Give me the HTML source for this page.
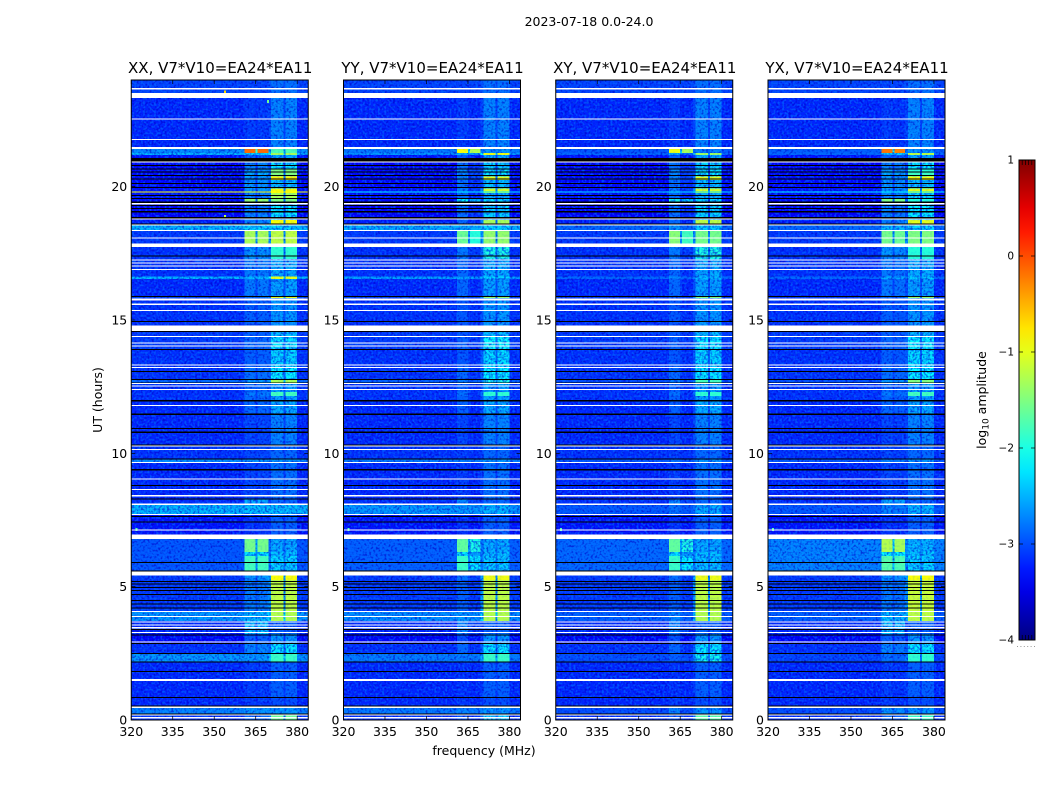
<!DOCTYPE html>
<html lang="en">
<head>
<meta charset="utf-8">
<title>Dynamic spectrum 2023-07-18</title>
<style>
html,body{margin:0;padding:0;background:#fff;width:1050px;height:800px;overflow:hidden}
svg{display:block}
text{font-family:"DejaVu Sans","Liberation Sans",sans-serif;fill:#000}
</style>
</head>
<body>
<svg id="chart" width="1050" height="800" viewBox="0 0 1050 800" xmlns="http://www.w3.org/2000/svg">
  <defs>
    <filter id="speckleDark" x="0" y="0" width="100%" height="100%" color-interpolation-filters="sRGB">
      <feTurbulence type="fractalNoise" baseFrequency="0.46" numOctaves="1" seed="7"/>
      <feColorMatrix type="matrix" values="0 0 0 0 0  0 0 0 0 0  0 0 0 0 0.78  4.5 0 0 0 -2.15"/>
    </filter>
    <filter id="speckleLight" x="0" y="0" width="100%" height="100%" color-interpolation-filters="sRGB">
      <feTurbulence type="fractalNoise" baseFrequency="0.46" numOctaves="1" seed="23"/>
      <feColorMatrix type="matrix" values="0 0 0 0 0  0 0 0 0 0.42  0 0 0 0 1  4.5 0 0 0 -2.15"/>
    </filter>
    <linearGradient id="jetGradient" x1="0" y1="1" x2="0" y2="0"></linearGradient>
  </defs>
  <text x="589" y="26" font-size="12.5" text-anchor="middle">2023-07-18 0.0-24.0</text>
  <text x="484" y="755" font-size="12.5" text-anchor="middle">frequency (MHz)</text>
  <text x="102" y="400" font-size="12.5" text-anchor="middle" transform="rotate(-90 102 400)">UT (hours)</text>
  <text x="986" y="400" font-size="12.5" text-anchor="middle" transform="rotate(-90 986 400)">log<tspan font-size="9" dy="2.5">10</tspan><tspan dy="-2.5"> amplitude</tspan></text>
  <g id="panels"></g>
  <g id="colorbar"></g>
</svg>
<script>
// ---------- data (hours, MHz, log10 amplitude) ----------
const panelNames = ['XX', 'YY', 'XY', 'YX'];
const panelTitles = ['XX, V7*V10=EA24*EA11', 'YY, V7*V10=EA24*EA11', 'XY, V7*V10=EA24*EA11', 'YX, V7*V10=EA24*EA11'];
const hourTicks = [0, 5, 10, 15, 20];
const freqTicks = [320, 335, 350, 365, 380];
const colorbarTicks = [1, 0, -1, -2, -3, -4];
const freqEdges = [320, 361, 365, 365.7, 369.6, 370.6, 375, 375.7, 380, 384];
const colKinds = ['bg', 'a1', 'gapA', 'a2', 'gapB', 'b', 'gapB', 'b', 'bg'];
const a2Offset = [0, -0.35, -0.35, -0.05];

const rowEdges = [0,.22,.45,.86,2.18,2.51,2.88,3.22,3.71,4.05,
  5.25,5.41,6.15,6.3,6.79,7.69,8.06,8.29,9.64,9.79,
  10.28,11.44,12,12.15,12.3,12.6,12.75,13.2,13.88,14.4,
  14.8,15.83,15.9,16.54,16.63,17.29,17.81,18.34,18.56,18.75,
  19.39,19.58,19.76,19.93,20.25,20.38,20.55,20.64,20.93,21.19,
  21.26,21.41,23.33,24];

const bgXX = [-3.15,-2.7,-3.2,-3.2,-2.6,-3.15,-3.4,-3.2,-2.6,-3.1,
  -3.1,-2.95,-2.95,-2.95,-3.3,-2.45,-3.15,-3.2,-2.65,-3.15,
  -3.2,-3.2,-3.15,-3.15,-3.15,-2.85,-3.15,-3.15,-3.1,-3.1,
  -3.15,-3,-3.2,-2.45,-3.15,-3.15,-3.1,-2.45,-3.25,-3.4,
  -3.35,-3.3,-3.3,-3.35,-3.35,-3.35,-3.35,-3.4,-3.3,-2.45,
  -2.65,-3.2,-3.05];
const bgYY = [-3.15,-2.75,-3.2,-3.2,-2.75,-3.15,-3.4,-3.2,-2.65,-3.1,
  -3.1,-2.9,-2.9,-2.9,-3.3,-2.6,-3.15,-3.2,-2.75,-3.15,
  -3.2,-3.2,-3.15,-3.15,-3.15,-2.9,-3.15,-3.15,-3.1,-3.1,
  -3.15,-3,-3.2,-2.55,-3.15,-3.15,-3.1,-2.5,-3.25,-3.4,
  -3.35,-3.3,-3.3,-3.35,-3.35,-3.35,-3.35,-3.4,-3.3,-2.6,
  -2.75,-3.2,-3.05];
const bgXY = [-3.15,-3,-3.2,-3.2,-3,-3.15,-3.4,-3.2,-2.9,-3.1,
  -3.1,-2.85,-2.85,-2.85,-3.3,-2.95,-3.15,-3.2,-2.95,-3.15,
  -3.2,-3.2,-3.15,-3.15,-3.15,-3,-3.15,-3.15,-3.1,-3.1,
  -3.15,-3.05,-3.2,-2.85,-3.15,-3.15,-3.1,-2.85,-3.25,-3.4,
  -3.35,-3.3,-3.3,-3.35,-3.35,-3.35,-3.35,-3.4,-3.3,-2.85,
  -2.95,-3.2,-3.05];
const bgYX = [-3.15,-3,-3.2,-3.2,-3.05,-3.15,-3.4,-3.2,-2.9,-3.1,
  -3.1,-2.7,-2.7,-2.7,-3.3,-2.95,-3.15,-3.2,-2.95,-3.15,
  -3.2,-3.2,-3.15,-3.15,-3.15,-3,-3.15,-3.15,-3.1,-3.1,
  -3.15,-3.05,-3.2,-2.85,-3.15,-3.15,-3.1,-2.85,-3.25,-3.4,
  -3.35,-3.3,-3.3,-3.35,-3.35,-3.35,-3.35,-3.4,-3.3,-2.85,
  -2.9,-3.2,-3.05];

const rfiAXX = [-2.85,-2.6,-3.1,-3.1,-2.6,-2.7,-2.9,-2.4,-2.4,-2.75,
  -2.6,-1.8,-2.2,-1.55,-3.15,-2.4,-2.5,-3.05,-2.6,-3.05,
  -3.05,-2.85,-2.85,-2.75,-2.85,-2.6,-2.8,-2.9,-2.85,-2.9,
  -2.9,-2.8,-2.75,-2.4,-2.75,-2.6,-1.3,-2.3,-2.7,-2.7,
  -1.4,-2.7,-2.6,-2.6,-2.6,-2.5,-2.6,-2.7,-2.9,-2.3,
  -0.15,-3.1,-3.05];
const rfiAYY = [-2.95,-2.7,-3.1,-3.15,-2.75,-2.85,-3,-2.7,-2.6,-2.9,
  -2.8,-1.85,-2.2,-1.65,-3.15,-2.6,-2.7,-3.1,-2.75,-3.1,
  -3.05,-2.9,-2.9,-2.8,-2.9,-2.75,-2.85,-2.95,-2.9,-2.95,
  -2.95,-2.9,-2.85,-2.55,-2.85,-2.75,-1.6,-2.5,-2.85,-2.8,
  -2.1,-2.85,-2.75,-2.8,-2.7,-2.7,-2.7,-2.8,-2.95,-2.5,
  -0.9,-3.1,-3.05];
const rfiAXY = [-2.95,-2.7,-3.1,-3.15,-2.9,-2.85,-3,-2.7,-2.7,-2.9,
  -2.8,-1.85,-2.25,-1.65,-3.15,-2.8,-2.7,-3.1,-2.8,-3.1,
  -3.05,-2.9,-2.9,-2.8,-2.9,-2.75,-2.85,-2.95,-2.9,-2.95,
  -2.95,-2.9,-2.85,-2.65,-2.85,-2.75,-1.45,-2.6,-2.85,-2.8,
  -2,-2.85,-2.75,-2.8,-2.7,-2.7,-2.7,-2.8,-2.95,-2.5,
  -0.95,-3.1,-3.05];
const rfiAYX = [-2.85,-2.6,-3.1,-3.1,-2.8,-2.7,-2.9,-2.4,-2.4,-2.75,
  -2.6,-1.7,-2.1,-1.25,-3.15,-2.7,-2.5,-3.05,-2.7,-3.05,
  -3.05,-2.85,-2.85,-2.75,-2.85,-2.6,-2.8,-2.9,-2.85,-2.9,
  -2.9,-2.8,-2.75,-2.5,-2.75,-2.6,-1.55,-2.4,-2.7,-2.7,
  -1.5,-2.7,-2.6,-2.6,-2.6,-2.5,-2.6,-2.7,-2.9,-2.3,
  -0.2,-3.1,-3.05];

const rfiBXX = [-1.6,-2.6,-3,-2.9,-1.85,-2.2,-2.6,-2.9,-1.25,-1.2,
  -0.9,-2.3,-2.4,-2.5,-2.9,-2.4,-2.85,-2.8,-2.6,-2.85,
  -2.7,-2.5,-2.55,-1.8,-2.55,-1.3,-2.15,-2.3,-2.2,-2.4,
  -2.6,-1,-2.55,-1,-2.5,-1.9,-1.2,-2.3,-0.9,-2.2,
  -1.5,-1.3,-0.9,-2.4,-0.8,-1.5,-1.5,-2.2,-2.5,-1.3,
  -1.75,-2.7,-2.8];
const rfiBYY = [-2.3,-2.6,-3,-2.9,-1.85,-2.2,-2.6,-2.9,-1.25,-1.2,
  -0.95,-2.35,-2.4,-2.5,-2.9,-2.45,-2.85,-2.8,-2.6,-2.85,
  -2.7,-2.5,-2.55,-1.9,-2.55,-2,-2.15,-2.25,-2.1,-2.4,
  -2.6,-1.4,-2.55,-2.3,-2.5,-2,-1.4,-2.3,-1.3,-2.3,
  -2.25,-2.5,-1.1,-2.4,-1,-2.2,-2.2,-2.3,-2.5,-0.95,
  -2.6,-2.7,-2.8];
const rfiBXY = [-1.7,-2.6,-3,-2.9,-2.05,-2.2,-2.6,-2.9,-1.25,-1.2,
  -0.95,-2.4,-2.4,-2.5,-2.9,-2.5,-2.85,-2.8,-2.6,-2.85,
  -2.7,-2.5,-2.55,-1.9,-2.55,-1.8,-2.2,-2.3,-2.2,-2.4,
  -2.6,-1.5,-2.55,-2.45,-2.5,-2,-1.55,-2.35,-1.2,-2.3,
  -2.25,-2.5,-1.1,-2.4,-1,-2.2,-2.2,-2.3,-2.5,-1.35,
  -2.7,-2.7,-2.8];
const rfiBYX = [-1.85,-2.6,-3,-2.9,-1.9,-2.2,-2.6,-2.9,-1.2,-1.15,
  -0.9,-2.3,-2.35,-2.45,-2.9,-2.45,-2.85,-2.8,-2.6,-2.85,
  -2.7,-2.5,-2.55,-1.8,-2.55,-1.5,-2.15,-2.25,-2.15,-2.4,
  -2.6,-1.4,-2.55,-2.35,-2.5,-1.95,-1.5,-2.3,-1,-2.2,
  -1.95,-2.3,-1,-2.4,-0.9,-1.85,-1.95,-2.2,-2.5,-1.2,
  -2.6,-2.7,-2.8];

// flagged (blank) time ranges, hours [low, high]
const flaggedLow = [.06,.18,.45,1.47,2.9,3.26,3.44,3.55,3.65,3.86,4.06,5.41,6.79,6.93,7.1,7.7,8.06,8.39,8.63,9.03,9.65,10.15,10.25,11.79,12.4,12.51,12.6,13.2,13.3,14.01,14.13,14.36,14.58,15.35,15.57,15.74,16.9,17,17.12,17.23,17.73,18.06,18.34,18.56,18.77,19.34,20.91,21.41,21.75,22.52,23.33,23.65];
const flaggedHigh = [.12,.21,.5,1.53,2.94,3.3,3.49,3.59,3.69,3.9,4.09,5.56,6.91,6.96,7.15,7.73,8.12,8.43,8.66,9.06,9.68,10.17,10.3,11.82,12.42,12.54,12.64,13.23,13.34,14.05,14.16,14.4,14.8,15.38,15.61,15.81,16.92,17.04,17.15,17.27,17.86,18.09,18.38,18.59,18.81,19.38,20.94,21.49,21.79,22.56,23.52,23.7];
// zero-amplitude (black) time ranges, hours [low, high]
const zeroLow = [.22,.51,.84,1.81,2.18,2.49,2.86,3.19,3.38,4.19,4.35,4.47,4.7,4.85,4.95,5.1,5.19,5.59,5.9,7.41,7.61,8.28,8.78,9.35,9.78,10.3,10.76,10.91,11.44,11.94,12.64,12.75,13.06,13.89,14.55,14.94,15.87,17.4,18.58,18.81,19.03,19.16,19.28,19.38,19.55,19.66,19.96,20.1,20.29,20.41,20.54,20.65,20.79,20.94];
const zeroHigh = [.25,.54,.86,1.84,2.2,2.51,2.88,3.21,3.42,4.21,4.37,4.5,4.73,4.88,4.98,5.12,5.21,5.61,5.92,7.44,7.65,8.31,8.81,9.41,9.81,10.33,10.81,10.95,11.5,12,12.66,12.79,13.09,13.91,14.58,14.97,15.9,17.42,18.62,18.87,19.09,19.2,19.31,19.44,19.58,19.69,19.99,20.14,20.31,20.44,20.56,20.68,20.81,21.08];
// full-width bright lines: hour and level in each panel
const brightLineHour = [19.82];
const brightLineLevelXX = [-0.9];
const brightLineLevelYY = [-2.2];
const brightLineLevelXY = [-2.3];
const brightLineLevelYX = [-2.2];
// isolated bright samples
const spikeFreq = [321.5, 353.5, 353.5, 369];
const spikeHour = [7.2, 23.6, 18.94, 23.25];
const spikeLevel = [-1.7, -0.7, -1.2, -1.6];
const spikePanel = ['all', 'XX', 'XX', 'XX'];

// ---------- scales ----------
const panelLeft = [131.25, 343.5, 555.75, 768];
const panelWidth = 177, axTop = 80, axBottom = 720;
const freqMin = 320, freqMax = 384, hourMin = 0, hourMax = 24, cbMin = -4, cbMax = 1;
const cbX = 1019, cbW = 16, cbTop = 160, cbBottom = 640;
const brightCutoff = -2.0;
const bgByPanel = [bgXX, bgYY, bgXY, bgYX];
const aByPanel = [rfiAXX, rfiAYY, rfiAXY, rfiAYX];
const bByPanel = [rfiBXX, rfiBYY, rfiBXY, rfiBYX];
const lineByPanel = [brightLineLevelXX, brightLineLevelYY, brightLineLevelXY, brightLineLevelYX];

function xScale(p, f) { return panelLeft[p] + (f - freqMin) / (freqMax - freqMin) * panelWidth; }
function yScale(h) { return axBottom - (h - hourMin) / (hourMax - hourMin) * (axBottom - axTop); }
function cbScale(v) { return cbBottom - (v - cbMin) / (cbMax - cbMin) * (cbBottom - cbTop); }
function clip01(v) { return Math.max(0, Math.min(1, v)); }
function jet(level) {
  const t = clip01((level - cbMin) / (cbMax - cbMin));
  const r = clip01(1.5 - Math.abs(4 * t - 3));
  const g = clip01(1.5 - Math.abs(4 * t - 2));
  const b = clip01(1.5 - Math.abs(4 * t - 1));
  return 'rgb(' + Math.round(r * 255) + ',' + Math.round(g * 255) + ',' + Math.round(b * 255) + ')';
}
const NS = 'http://www.w3.org/2000/svg';
function mk(parent, tag, attrs) {
  const el = document.createElementNS(NS, tag);
  for (const k in attrs) el.setAttribute(k, attrs[k]);
  parent.appendChild(el);
  return el;
}
function cellLevel(kind, bg, a, b, off) {
  if (kind === 'bg') return bg;
  if (kind === 'a1') return a;
  if (kind === 'a2') return Math.max(bg, a + off);
  if (kind === 'b') return b;
  if (kind === 'gapA') return bg + 0.3 * (a - bg);
  return bg + 0.28 * (b - bg);
}

// ---------- panels ----------
const panelsRoot = document.getElementById('panels');
panelNames.forEach(function (name, p) {
  const g = mk(panelsRoot, 'g', {});
  
  
  const L = xScale(p, freqMin), R = xScale(p, freqMax);

  const cells = mk(g, 'g', { 'shape-rendering': 'crispEdges' });
  
  
  const dark = mk(g, 'rect', { x: L, y: axTop, width: panelWidth, height: axBottom - axTop, filter: 'url(#speckleDark)', opacity: 0.6 });
  
  
  const light = mk(g, 'rect', { x: L, y: axTop, width: panelWidth, height: axBottom - axTop, filter: 'url(#speckleLight)', opacity: 0.6 });
  
  
  const brightCells = mk(g, 'g', { 'shape-rendering': 'crispEdges' });
  
  
  const weak = mk(g, 'rect', { x: L, y: axTop, width: panelWidth, height: axBottom - axTop, filter: 'url(#speckleLight)', opacity: 0.12 });
  
  

  for (let r = 0; r < rowEdges.length - 1; r++) {
    const yT = yScale(rowEdges[r + 1]), yB = yScale(rowEdges[r]);
    for (let c = 0; c < colKinds.length; c++) {
      const x0 = xScale(p, freqEdges[c]), x1 = xScale(p, freqEdges[c + 1]);
      const lvl = cellLevel(colKinds[c], bgByPanel[p][r], aByPanel[p][r], bByPanel[p][r], a2Offset[p]);
      const holder = lvl > brightCutoff ? brightCells : cells;
      const cell = mk(holder, 'rect', { x: x0, y: yT, width: x1 - x0, height: yB - yT, fill: jet(lvl) });
      
      
    }
  }

  spikeFreq.forEach(function (f, i) {
    if (spikePanel[i] !== 'all' && spikePanel[i] !== name) return;
    const s = mk(g, 'rect', { x: xScale(p, f), y: yScale(spikeHour[i]), width: 2, height: 3, fill: jet(spikeLevel[i]), 'shape-rendering': 'crispEdges' });
    
    
  });
  zeroLow.forEach(function (lo, i) {
    const yT = yScale(zeroHigh[i]);
    const z = mk(g, 'rect', { x: L, y: yT, width: panelWidth, height: Math.max(1, yScale(lo) - yT), fill: '#000', 'shape-rendering': 'crispEdges' });
    
    
  });
  brightLineHour.forEach(function (h, i) {
    const bl = mk(g, 'rect', { x: L, y: yScale(h), width: panelWidth, height: 1, fill: jet(lineByPanel[p][i]), 'shape-rendering': 'crispEdges' });
    
    
  });
  flaggedLow.forEach(function (lo, i) {
    const yT = yScale(flaggedHigh[i]);
    const w = mk(g, 'rect', { x: L, y: yT, width: panelWidth, height: Math.max(1, yScale(lo) - yT), fill: '#fff', 'shape-rendering': 'crispEdges' });
    
    
  });

  const frame = mk(g, 'rect', { x: L, y: axTop, width: panelWidth, height: axBottom - axTop, fill: 'none', stroke: '#000', 'stroke-width': 1 });
  
  

  hourTicks.forEach(function (h) {
    const y = yScale(h);
    const t1 = mk(g, 'line', { x1: L, x2: L + 4, y1: y, y2: y, stroke: '#000', 'stroke-width': 0.7 });
    
    
    const t2 = mk(g, 'line', { x1: R, x2: R - 4, y1: y, y2: y, stroke: '#000', 'stroke-width': 0.7 });
    
    
    const lab = mk(g, 'text', { x: L - 4, y: y + 4.5, 'font-size': 12.5, 'text-anchor': 'end' });
    lab.textContent = String(h);
    
    
  });
  freqTicks.forEach(function (f) {
    const x = xScale(p, f);
    const t1 = mk(g, 'line', { x1: x, x2: x, y1: axBottom, y2: axBottom - 4, stroke: '#000', 'stroke-width': 0.7 });
    
    
    const t2 = mk(g, 'line', { x1: x, x2: x, y1: axTop, y2: axTop + 4, stroke: '#000', 'stroke-width': 0.7 });
    
    
    const lab = mk(g, 'text', { x: x, y: axBottom + 16, 'font-size': 12.5, 'text-anchor': 'middle' });
    lab.textContent = String(f);
    
    
  });
  const title = mk(g, 'text', { x: (L + R) / 2 + 0.5, y: 73, 'font-size': 15, 'text-anchor': 'middle' });
  title.textContent = panelTitles[p];
  
  
});

// ---------- colorbar ----------
const grad = document.getElementById('jetGradient');
const stopLevels = [-4, -3.75, -3.5, -3.25, -3, -2.75, -2.5, -2.25, -2, -1.75, -1.5, -1.25, -1, -0.75, -0.5, -0.25, 0, 0.25, 0.5, 0.75, 1];
stopLevels.forEach(function (v) {
  mk(grad, 'stop', { offset: ((v - cbMin) / (cbMax - cbMin) * 100) + '%', 'stop-color': jet(v) });
});
const cb = document.getElementById('colorbar');
const bar = mk(cb, 'rect', { x: cbX, y: cbTop, width: cbW, height: cbBottom - cbTop, fill: 'url(#jetGradient)', stroke: '#000', 'stroke-width': 1 });


colorbarTicks.forEach(function (v) {
  const y = cbScale(v);
  const t1 = mk(cb, 'line', { x1: cbX, x2: cbX + 4, y1: y, y2: y, stroke: '#000', 'stroke-width': 0.7 });
  
  
  const t2 = mk(cb, 'line', { x1: cbX + cbW, x2: cbX + cbW - 4, y1: y, y2: y, stroke: '#000', 'stroke-width': 0.7 });
  
  
  const lab = mk(cb, 'text', { x: cbX - 5, y: y + 3.5, 'font-size': 10.5, 'text-anchor': 'end' });
  lab.textContent = v < 0 ? '\u2212' + Math.abs(v) : String(v);
  
  
});
[0.2, 0.4, 0.6, 0.8].forEach(function (frac) {
  const x = cbX + frac * cbW;
  const t1 = mk(cb, 'line', { x1: x, x2: x, y1: cbTop, y2: cbTop + 5, stroke: '#000', 'stroke-width': 0.7 });
  
  
  const t2 = mk(cb, 'line', { x1: x, x2: x, y1: cbBottom, y2: cbBottom - 5, stroke: '#000', 'stroke-width': 0.7 });
  
  
});
const dots = mk(cb, 'line', { x1: 1017, x2: 1035, y1: 646.5, y2: 646.5, stroke: '#999', 'stroke-width': 1, 'stroke-dasharray': '1 2.4' });


</script>
</body>
</html>
